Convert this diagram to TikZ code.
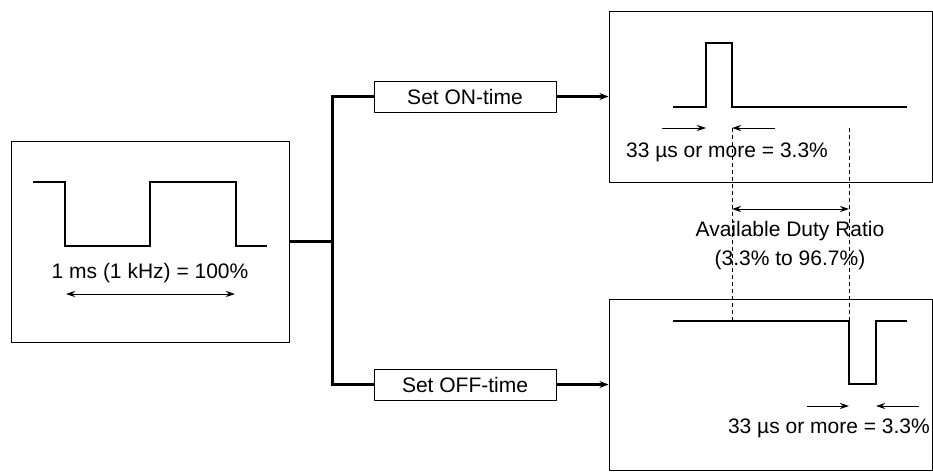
\documentclass[tikz,border=0pt]{standalone}
\usepackage{fontspec}
\setmainfont{Liberation Sans}
\usepackage{tikz}
\usetikzlibrary{arrows.meta, positioning}

\begin{document}
\begin{tikzpicture}[
  x=1pt, y=-1pt,
  font=\fontsize{21}{29}\selectfont,
  panel/.style={rectangle, draw, line width=1pt, inner sep=0pt},
  setbox/.style={rectangle, draw, line width=1pt, minimum width=182pt, minimum height=31pt, inner sep=0pt},
  wave/.style={line width=2.2pt, line join=miter},
  bus/.style={line width=3pt},
  feed/.style={-{Stealth[length=9pt, width=7pt]}, line width=3pt},
  dim/.style={-{Stealth[length=9pt, width=6pt]}, line width=1pt},
  span/.style={{Stealth[length=9pt, width=6pt]}-{Stealth[length=9pt, width=6pt]}, line width=1pt},
  guide/.style={dash pattern=on 4pt off 3pt, line width=1pt}
]
\useasboundingbox (0,0) rectangle (933,471);

% Nodes
\node[panel, minimum width=278pt, minimum height=201pt] (src) at (150,241.5) {};
\node[panel, minimum width=323pt, minimum height=171pt] (onpanel) at (770.5,96.5) {};
\node[panel, minimum width=323pt, minimum height=171pt] (offpanel) at (770.5,384.5) {};
\node[setbox] (onbox) at (465,96.5) {Set ON-time};
\node[setbox] (offbox) at (465,384.5) {Set OFF-time};
\coordinate (split) at (332,241.5);

% Arrows
\draw[line width=2.2pt] (src.east) -- (split);
\draw[bus] (onbox.west) -| (split) |- (offbox.west);
\draw[feed] (onbox.east) -- (onpanel.west);
\draw[feed] (offbox.east) -- (offpanel.west);

% Source waveform
\draw[wave] (33,182) -- (65,182) -- (65,246) -- (150,246) -- (150,182) -- (236,182) -- (236,246) -- (267,246);
\node (period) at (150,273) {1 ms (1 kHz) = 100\%};
\coordinate (pa) at (66,294);
\coordinate (pb) at (235,294);
\draw[span] (pa) -- (pb);

% ON-time waveform
\draw[wave] (673,107) -- (706,107) -- (706,43) -- (732,43) -- (732,107) -- (907,107);
\coordinate (ona) at (662,128);
\coordinate (onb) at (706,128);
\coordinate (onc) at (732,128);
\coordinate (ond) at (775,128);
\draw[dim] (ona) -- (onb);
\draw[dim] (ond) -- (onc);
\node (onlabel) at (727,152) {33 µs or more = 3.3\%};

% OFF-time waveform
\draw[wave] (673,321) -- (849,321) -- (849,384) -- (876,384) -- (876,321) -- (907,321);
\coordinate (offa) at (807,406);
\coordinate (offb) at (849,406);
\coordinate (offc) at (876,406);
\coordinate (offd) at (919,406);
\draw[dim] (offa) -- (offb);
\draw[dim] (offd) -- (offc);
\node[anchor=east, inner sep=0pt] (offlabel) at (930,428) {33 µs or more = 3.3\%};

% Duty ratio
\coordinate (gl) at (732,321);
\coordinate (gr) at (849,128);
\draw[guide] (onc) -- (gl);
\draw[guide] (gr) -- (offb |- gl);
\draw[span] (732,209) -- (849,209);
\node[align=center] (duty) at (790,245.5) {Available Duty Ratio\\(3.3\% to 96.7\%)};

\end{tikzpicture}
\end{document}
